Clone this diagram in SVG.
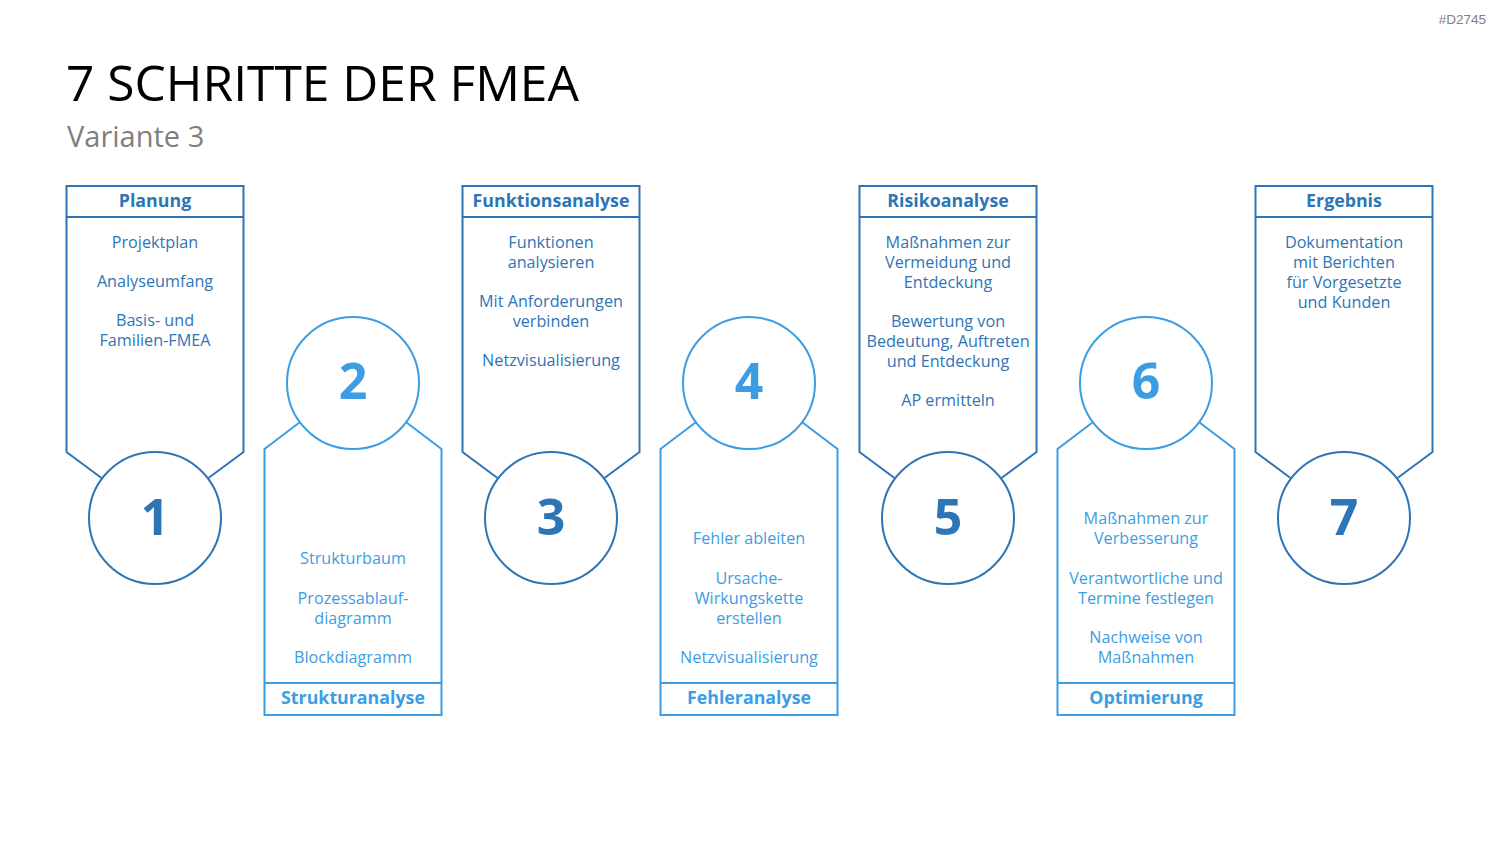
<svg xmlns="http://www.w3.org/2000/svg" width="1500" height="844" viewBox="0 0 1500 844">
<style>
.dk{stroke:#2E75B6;}
.lt{stroke:#3D9DE2;}
.shape{fill:none;stroke-width:2;}
.circ{fill:#FFFFFF;stroke-width:2;}
.hd{font-family:"Open Sans","Liberation Sans",sans-serif;font-weight:700;font-size:17.8px;text-anchor:middle;}
.bd{font-family:"Open Sans","Liberation Sans",sans-serif;font-size:16.2px;text-anchor:middle;}
.num{font-family:"Open Sans","Liberation Sans",sans-serif;font-weight:700;font-size:50px;text-anchor:middle;}
.tdk{fill:#2E75B6;}
.tlt{fill:#3D9DE2;}
</style>
<rect width="1500" height="844" fill="#FFFFFF"/>
<text x="1486" y="24" font-family="Liberation Sans, sans-serif" font-size="13.5" fill="#808080" text-anchor="end">#D2745</text>
<text x="66" y="101" font-family="Open Sans, Liberation Sans, sans-serif" font-size="49.7" fill="#000000">7 SCHRITTE DER FMEA</text>
<text x="67" y="147" font-family="Open Sans, Liberation Sans, sans-serif" font-size="29" fill="#7F7F7F">Variante 3</text>

<g id="connectors"></g>

<g id="step1">
<path class="shape dk" d="M101.5,478 L66.5,452 L66.5,186 L243.5,186 L243.5,452 L208.5,478"/>
<line class="shape dk" x1="66.5" y1="217" x2="243.5" y2="217"/>
<circle class="circ dk" cx="155" cy="518" r="66"/>
<text class="hd tdk" x="155" y="207">Planung</text>
<text class="bd tdk" x="155" y="248">Projektplan</text>
<text class="bd tdk" x="155" y="287">Analyseumfang</text>
<text class="bd tdk" x="155" y="326">Basis- und</text>
<text class="bd tdk" x="155" y="346">Familien-FMEA</text>
<text class="num tdk" x="155" y="535">1</text>
</g>

<g id="step2">
<path class="shape lt" d="M299.5,422.5 L264.5,449 L264.5,715 L441.5,715 L441.5,449 L406.5,422.5"/>
<line class="shape lt" x1="264.5" y1="683" x2="441.5" y2="683"/>
<circle class="circ lt" cx="353" cy="383" r="66"/>
<text class="hd tlt" x="353" y="704">Strukturanalyse</text>
<text class="bd tlt" x="353" y="564">Strukturbaum</text>
<text class="bd tlt" x="353" y="604">Prozessablauf-</text>
<text class="bd tlt" x="353" y="624">diagramm</text>
<text class="bd tlt" x="353" y="663">Blockdiagramm</text>
<text class="num tlt" x="353" y="399">2</text>
</g>

<g id="step3">
<path class="shape dk" d="M497.5,478 L462.5,452 L462.5,186 L639.5,186 L639.5,452 L604.5,478"/>
<line class="shape dk" x1="462.5" y1="217" x2="639.5" y2="217"/>
<circle class="circ dk" cx="551" cy="518" r="66"/>
<text class="hd tdk" x="551" y="207">Funktionsanalyse</text>
<text class="bd tdk" x="551" y="248">Funktionen</text>
<text class="bd tdk" x="551" y="268">analysieren</text>
<text class="bd tdk" x="551" y="307">Mit Anforderungen</text>
<text class="bd tdk" x="551" y="327">verbinden</text>
<text class="bd tdk" x="551" y="366">Netzvisualisierung</text>
<text class="num tdk" x="551" y="535">3</text>
</g>

<g id="step4">
<path class="shape lt" d="M695.5,422.5 L660.5,449 L660.5,715 L837.5,715 L837.5,449 L802.5,422.5"/>
<line class="shape lt" x1="660.5" y1="683" x2="837.5" y2="683"/>
<circle class="circ lt" cx="749" cy="383" r="66"/>
<text class="hd tlt" x="749" y="704">Fehleranalyse</text>
<text class="bd tlt" x="749" y="544">Fehler ableiten</text>
<text class="bd tlt" x="749" y="584">Ursache-</text>
<text class="bd tlt" x="749" y="604">Wirkungskette</text>
<text class="bd tlt" x="749" y="624">erstellen</text>
<text class="bd tlt" x="749" y="663">Netzvisualisierung</text>
<text class="num tlt" x="749" y="399">4</text>
</g>

<g id="step5">
<path class="shape dk" d="M894.5,478 L859.5,452 L859.5,186 L1036.5,186 L1036.5,452 L1001.5,478"/>
<line class="shape dk" x1="859.5" y1="217" x2="1036.5" y2="217"/>
<circle class="circ dk" cx="948" cy="518" r="66"/>
<text class="hd tdk" x="948" y="207">Risikoanalyse</text>
<text class="bd tdk" x="948" y="248">Maßnahmen zur</text>
<text class="bd tdk" x="948" y="268">Vermeidung und</text>
<text class="bd tdk" x="948" y="288">Entdeckung</text>
<text class="bd tdk" x="948" y="327">Bewertung von</text>
<text class="bd tdk" x="948" y="347">Bedeutung, Auftreten</text>
<text class="bd tdk" x="948" y="367">und Entdeckung</text>
<text class="bd tdk" x="948" y="406">AP ermitteln</text>
<text class="num tdk" x="948" y="535">5</text>
</g>

<g id="step6">
<path class="shape lt" d="M1092.5,422.5 L1057.5,449 L1057.5,715 L1234.5,715 L1234.5,449 L1199.5,422.5"/>
<line class="shape lt" x1="1057.5" y1="683" x2="1234.5" y2="683"/>
<circle class="circ lt" cx="1146" cy="383" r="66"/>
<text class="hd tlt" x="1146" y="704">Optimierung</text>
<text class="bd tlt" x="1146" y="524">Maßnahmen zur</text>
<text class="bd tlt" x="1146" y="544">Verbesserung</text>
<text class="bd tlt" x="1146" y="584">Verantwortliche und</text>
<text class="bd tlt" x="1146" y="604">Termine festlegen</text>
<text class="bd tlt" x="1146" y="643">Nachweise von</text>
<text class="bd tlt" x="1146" y="663">Maßnahmen</text>
<text class="num tlt" x="1146" y="399">6</text>
</g>

<g id="step7">
<path class="shape dk" d="M1290.5,478 L1255.5,452 L1255.5,186 L1432.5,186 L1432.5,452 L1397.5,478"/>
<line class="shape dk" x1="1255.5" y1="217" x2="1432.5" y2="217"/>
<circle class="circ dk" cx="1344" cy="518" r="66"/>
<text class="hd tdk" x="1344" y="207">Ergebnis</text>
<text class="bd tdk" x="1344" y="248">Dokumentation</text>
<text class="bd tdk" x="1344" y="268">mit Berichten</text>
<text class="bd tdk" x="1344" y="288">für Vorgesetzte</text>
<text class="bd tdk" x="1344" y="308">und Kunden</text>
<text class="num tdk" x="1344" y="535">7</text>
</g>
</svg>
